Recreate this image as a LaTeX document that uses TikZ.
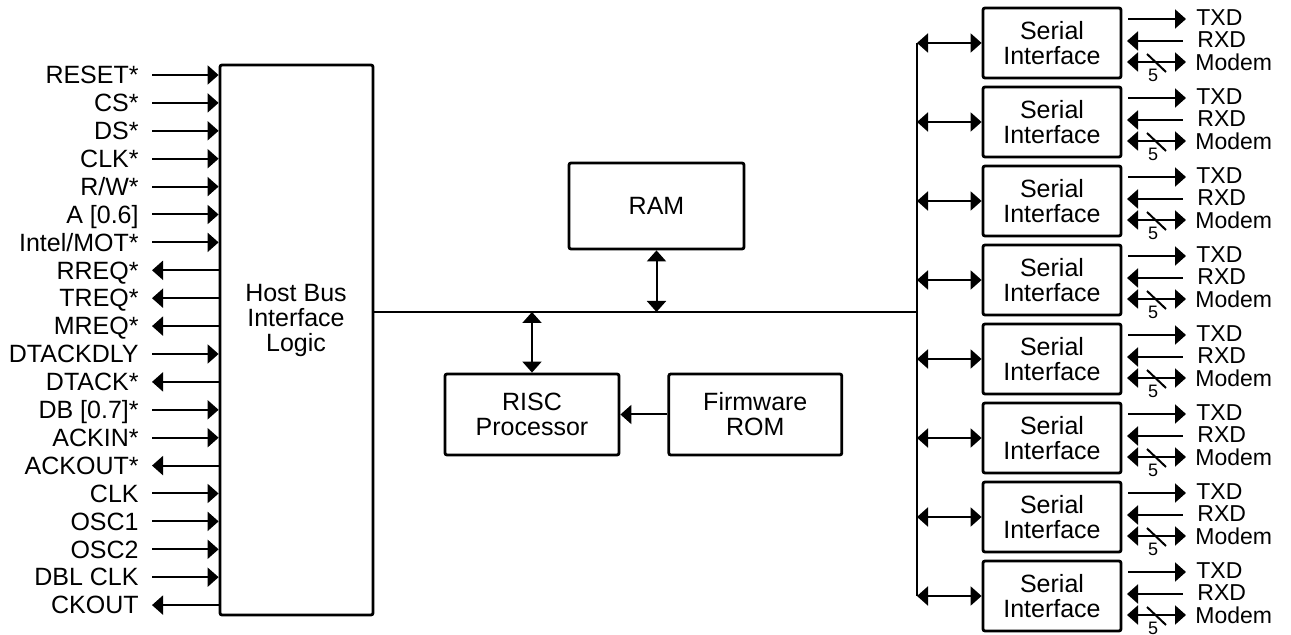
\documentclass[tikz,border=0pt]{standalone}
\usepackage{fontspec}
\setmainfont{Liberation Sans}
\usetikzlibrary{arrows.meta,positioning}

\tikzset{
  block/.style={draw, line width=1.4pt, rounded corners=1pt, align=center,
    font=\fontsize{12.5}{12.5}\selectfont},
  sig/.style={font=\fontsize{12.5}{12.5}\selectfont, inner sep=0pt},
  port/.style={font=\fontsize{11.5}{11.5}\selectfont, inner sep=0pt, anchor=west},
  wire/.style={line width=1pt},
  sigin/.style={-{Triangle[length=5.5pt,width=9.5pt]}},
  sigout/.style={{Triangle[length=5.5pt,width=9.5pt]}-},
  darr/.style={{Triangle[length=5.5pt,width=9.5pt]}-{Triangle[length=5.5pt,width=9.5pt]}},
}

\begin{document}
\begin{tikzpicture}[x=0.5pt, y=-0.5pt]
  \useasboundingbox (0,0) rectangle (1291,635);

  % host bus side
  \node[block, minimum width=76.5pt, minimum height=275pt] (hbil) at (296.5,340) {};
  \node[sig, align=center] (hbiltext) at (296,320) {Host Bus\\Interface\\Logic};
  \foreach \name/\dir [count=\i from 0] in {RESET*/sigin, CS*/sigin, DS*/sigin, CLK*/sigin,
      {R/W*}/sigin, A [0.6]/sigin, {Intel/MOT*}/sigin, RREQ*/sigout, TREQ*/sigout,
      MREQ*/sigout, DTACKDLY/sigin, DTACK*/sigout, DB [0.7]*/sigin, ACKIN*/sigin,
      ACKOUT*/sigout, CLK/sigin, OSC1/sigin, OSC2/sigin, DBL CLK/sigin, CKOUT/sigout} {
    \node[sig, anchor=base east] (s\i) at (139, 83.8+27.9*\i) {\name};
    \coordinate (p\i) at (152, 75+27.9*\i);
    \coordinate (h\i) at (hbil.west |- p\i);
    \draw[wire, \dir] (p\i) -- (h\i);
  }

  % internal bus
  \coordinate (busw) at (hbil.east |- 0,312);
  \coordinate (buse) at (917,312);
  \draw[wire] (busw) -- (buse);

  \node[block, minimum width=87.5pt, minimum height=43pt] (ram) at (656.5,206) {RAM};
  \node[block, minimum width=87pt, minimum height=40.5pt] (risc) at (532,414.5) {RISC\\Processor};
  \node[block, minimum width=86.5pt, minimum height=40.5pt, right=23.5pt of risc] (fw) {Firmware\\ROM};
  \coordinate (ramb) at (ram.south |- busw);
  \coordinate (risct) at (risc.north |- busw);
  \draw[wire, darr] (ram.south) -- (ramb);
  \draw[wire, darr] (risct) -- (risc.north);
  \draw[wire, sigin] (fw.west) -- (risc.east);

  % serial channels
  \foreach \i in {0,...,7} {
    \node[block, minimum width=69pt, minimum height=35pt] (si\i) at (1052, 43+79*\i) {Serial\\Interface};
    \coordinate (b\i) at (917, 43+79*\i);
    \draw[wire, darr] (b\i) -- (si\i.west);
    \node[port] (tx\i) at (1196, 18+79*\i) {TXD};
    \node[port] (rx\i) at (1197, 40+79*\i) {RXD};
    \node[port] (mo\i) at (1195, 62+79*\i) {Modem};
    \coordinate (ta\i) at (1128, 19+79*\i);
    \coordinate (ra\i) at (1127, 41+79*\i);
    \coordinate (ma\i) at (1127, 62+79*\i);
    \draw[wire, sigin] (ta\i) -- ([xshift=-5pt]tx\i.west |- ta\i);
    \draw[wire, sigout] (ra\i) -- ([xshift=-7pt]rx\i.west |- ra\i);
    \draw[wire, darr] (ma\i) -- ([xshift=-4.5pt]mo\i.west |- ma\i);
    \draw[wire] (1147, 54+79*\i) -- (1166, 72+79*\i);
    \node[sig, font=\fontsize{9}{9}\selectfont] (f\i) at (1153, 75+79*\i) {5};
  }
  \draw[wire] (b0) -- (b7);
\end{tikzpicture}
\end{document}
